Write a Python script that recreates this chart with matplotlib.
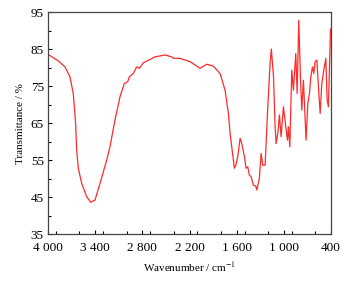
import numpy as np
import matplotlib.pyplot as plt
from matplotlib.ticker import MultipleLocator, FuncFormatter

plt.rcParams['font.family'] = ['Liberation Serif', 'DejaVu Serif']
plt.rcParams['mathtext.fontset'] = 'stix'

# IR spectrum (wavenumber cm-1, transmittance %)
wavenumber = [4000, 3869, 3784, 3720, 3678, 3648, 3635, 3614, 3571, 3508, 3456,
              3402, 3338, 3253, 3211, 3148, 3084, 3029, 2986, 2965, 2915, 2872,
              2838, 2787, 2702, 2639, 2511, 2426, 2406, 2321, 2193, 2066, 1981,
              1897, 1812, 1748, 1706, 1684, 1630, 1612, 1587, 1557, 1536, 1502,
              1481, 1460, 1439, 1417, 1388, 1358, 1345, 1312, 1290, 1269, 1239,
              1205, 1176, 1160, 1132, 1112, 1099, 1078, 1057, 1036, 1006, 976,
              955, 943, 925, 900, 879, 849, 832, 811, 790, 773, 752, 739, 718,
              696, 675, 658, 637, 620, 603, 581, 561, 539, 518, 489, 467, 450,
              434, 408, 400]
transmittance = [83.6, 81.8, 80.2, 77.5, 73.0, 64.9, 57.7, 52.8, 48.7, 45.1, 43.6,
                 44.2, 48.7, 55.0, 58.6, 65.8, 72.1, 75.7, 76.2, 77.5, 78.4, 80.2,
                 79.8, 81.3, 82.2, 82.9, 83.4, 82.9, 82.5, 82.5, 81.6, 79.8, 80.9,
                 80.4, 78.4, 73.9, 67.6, 62.2, 52.8, 53.6, 55.9, 60.9, 59.5, 55.9,
                 52.8, 53.2, 50.9, 50.5, 48.2, 48.0, 46.9, 50.0, 56.8, 53.6, 53.6,
                 69.4, 81.1, 85.0, 77.5, 64.0, 59.5, 62.2, 67.2, 61.3, 69.4, 64.0,
                 60.4, 64.0, 58.6, 79.3, 73.9, 83.8, 73.0, 92.8, 77.5, 68.5, 76.6,
                 70.3, 60.4, 70.3, 73.0, 77.5, 80.2, 78.4, 81.6, 82.0, 74.8, 67.6,
                 75.7, 79.8, 82.5, 71.2, 69.4, 90.1, 90.5]

x_ticks = [4000, 3400, 2800, 2200, 1600, 1000, 400]
y_ticks = [35, 45, 55, 65, 75, 85, 95]

fig = plt.figure(figsize=(3.5, 2.81), dpi=100)
ax = fig.add_axes([0.137, 0.167, 0.809, 0.790])
ax.plot(wavenumber, transmittance, color='#ff2a2a', lw=0.9)

ax.set_xlim(4000, 400)
ax.set_ylim(35, 95)
ax.set_xticks(x_ticks)
ax.set_yticks(y_ticks)
ax.xaxis.set_minor_locator(MultipleLocator(300))
ax.yaxis.set_minor_locator(MultipleLocator(5))
ax.xaxis.set_major_formatter(FuncFormatter(lambda v, p: f"{int(v):,}".replace(',', ' ')))
ax.tick_params(which='both', direction='in', top=False, right=False, labelsize=9.5)
ax.tick_params(axis='x', pad=6)
ax.tick_params(axis='y', pad=3)
ax.tick_params(which='major', length=3, width=0.8)
ax.tick_params(which='minor', length=2, width=0.8)
for s in ax.spines.values():
    s.set_color('#444444')
    s.set_linewidth(0.9)

ax.set_xlabel(r'Wavenumber / cm$^{-1}$', fontsize=8, labelpad=4)
ax.set_ylabel('Transmittance / %', fontsize=8, labelpad=4)

plt.savefig('out.png', dpi=100)
plt.close()
